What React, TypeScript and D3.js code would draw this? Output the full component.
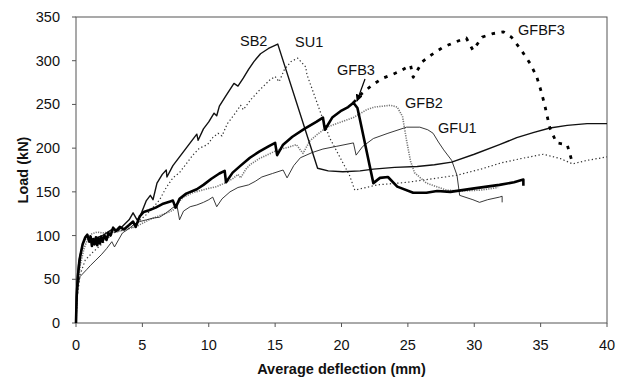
import React from "react";
import * as d3 from "d3";

type Pt = [number, number];

const xTicks = [0, 5, 10, 15, 20, 25, 30, 35, 40];
const yTicks = [0, 50, 100, 150, 200, 250, 300, 350];

const SB2: Pt[] = [
  [0, 0], [0.05, 40], [0.2, 70], [0.5, 90], [0.8, 100], [1.0, 97], [1.3, 92], [1.6, 98], [2.0, 100],
  [2.4, 104], [2.8, 108], [3.2, 106], [3.6, 112], [4.0, 118], [4.3, 126], [4.6, 118], [4.8, 121],
  [5.3, 140], [5.6, 146], [5.8, 141], [6.1, 160], [6.5, 170], [6.8, 175], [6.85, 167], [7.3, 180],
  [7.8, 190], [8.3, 200], [8.8, 210], [9.1, 216], [9.2, 209], [9.6, 222], [10.0, 230], [10.4, 240],
  [10.6, 237], [10.8, 248], [11.3, 260], [11.9, 274], [12.2, 271], [12.6, 280], [13.0, 290],
  [13.4, 299], [13.9, 308], [14.5, 314], [15.2, 319], [18.2, 177], [19.0, 174], [20.1, 173],
  [21.4, 174], [22.4, 176], [24.0, 178], [25.7, 179], [27.0, 181], [28.3, 184], [30.0, 193],
  [31.9, 204], [33.2, 212], [34.5, 218], [35.7, 223], [37.0, 226], [38.5, 228], [40, 228],
];

const SU1: Pt[] = [
  [0, 0], [0.1, 30], [0.3, 55], [0.7, 72], [1.2, 80], [2.0, 91], [2.8, 103], [3.5, 106], [4.3, 110],
  [5.0, 120], [5.3, 124], [5.8, 132], [6.3, 141], [6.8, 155], [7.3, 166], [7.8, 172], [8.3, 182],
  [8.8, 192], [9.3, 200], [9.9, 204], [10.3, 212], [10.7, 217], [11.0, 214], [11.4, 228], [12.0, 240],
  [12.4, 249], [12.6, 244], [13.2, 256], [13.8, 266], [14.6, 278], [15.0, 282], [15.3, 276],
  [15.7, 290], [16.2, 299], [16.7, 303], [17.3, 293], [17.4, 284], [19.1, 212], [20.6, 169],
  [21.0, 152], [22.7, 158], [25.0, 161], [28.7, 169], [30.5, 176], [32.0, 183], [33.5, 188],
  [35.2, 193], [36.5, 188], [37.4, 182], [38.5, 186], [40, 190],
];

const GFB3: Pt[] = [
  [0, 0], [0.05, 30], [0.15, 55], [0.3, 75], [0.5, 90], [0.7, 98], [0.85, 101], [1.0, 93], [1.1, 99],
  [1.2, 88], [1.3, 96], [1.4, 90], [1.5, 98], [1.6, 89], [1.7, 97], [1.8, 91], [1.9, 99], [2.0, 93],
  [2.15, 100], [2.3, 95], [2.45, 103], [2.6, 100], [2.8, 109], [3.0, 105], [3.3, 110], [3.6, 107],
  [4.0, 112], [4.3, 116], [4.5, 110], [4.8, 122], [5.1, 127], [5.5, 129],
  [6.0, 132], [6.5, 136], [7.1, 139], [7.3, 140], [7.5, 132], [7.8, 142], [8.3, 148], [9.1, 153],
  [9.6, 158], [10.2, 165], [10.8, 171], [11.2, 174], [11.3, 161], [11.8, 172], [12.4, 180],
  [13.1, 189], [13.8, 196], [14.5, 202], [15.0, 206], [15.15, 192], [15.6, 204], [16.3, 213],
  [17.2, 222], [18.1, 230], [18.6, 235], [18.75, 221], [19.3, 235], [20.0, 243], [20.5, 247],
  [20.9, 252], [21.2, 246], [21.4, 232], [22.4, 160], [22.9, 166], [23.5, 167], [24.2, 156],
  [25.4, 149], [26.4, 149], [27.2, 151], [28.2, 150], [30.0, 154], [31.9, 158], [33.0, 161],
  [33.7, 164], [33.7, 157],
];

const GFB2: Pt[] = [
  [0, 0], [0.1, 35], [0.3, 65], [0.6, 85], [0.9, 97], [1.2, 102], [1.6, 104], [2.0, 103], [2.5, 104],
  [3.0, 104], [3.5, 106], [4.0, 108], [4.5, 110], [5.0, 114], [5.5, 118], [6.0, 121], [6.5, 124],
  [7.0, 127], [7.3, 129], [7.6, 136], [8.1, 144], [8.8, 149], [9.5, 152], [10.0, 154], [10.6, 156],
  [11.2, 160], [11.8, 165], [12.2, 170], [12.4, 166], [12.8, 176], [13.1, 181], [13.8, 188],
  [14.5, 193], [15.2, 198], [16.0, 201], [16.6, 204], [17.1, 194], [17.6, 208], [18.2, 216],
  [18.9, 224], [19.8, 229], [20.9, 235], [21.9, 244], [22.5, 247], [23.1, 248], [23.7, 249],
  [24.2, 247], [24.6, 236], [24.9, 209], [25.2, 185], [25.5, 172], [26.4, 160], [27.9, 152],
  [29.0, 151], [30.5, 152], [31.8, 155],
];

const GFU1: Pt[] = [
  [0, 0], [0.05, 20], [0.1, 38], [0.3, 53], [0.8, 61], [1.1, 66], [1.5, 72], [1.9, 78], [2.3, 85],
  [2.7, 93], [2.9, 87], [3.2, 95], [3.5, 103], [4.0, 108], [4.3, 112], [4.8, 116], [5.3, 118],
  [5.8, 120], [6.3, 121], [6.8, 126], [7.3, 132], [7.6, 135], [7.8, 118], [8.1, 128], [8.6, 133],
  [9.1, 135], [9.6, 138], [10.0, 141], [10.3, 144], [10.6, 133], [11.0, 142], [11.6, 150],
  [12.2, 155], [13.0, 158], [13.5, 162], [14.0, 167], [14.8, 171], [15.6, 175], [15.9, 166],
  [16.4, 180], [16.9, 189], [17.8, 195], [18.6, 199], [19.6, 202], [20.9, 206], [21.1, 192],
  [21.6, 202], [22.4, 211], [23.5, 217], [24.9, 224], [25.9, 224], [26.5, 221], [26.9, 217],
  [27.3, 207], [27.7, 198], [28.3, 186], [28.7, 169], [28.9, 146], [29.9, 141], [30.4, 138],
  [31.0, 141], [31.9, 144], [32.1, 145], [32.1, 138],
];

const GFBF3: Pt[] = [
  [20.9, 252], [21.5, 262], [22.3, 272], [23.1, 280], [23.8, 284], [24.4, 288], [25.2, 295],
  [25.4, 281], [26.1, 299], [26.8, 307], [27.6, 315], [28.5, 321], [29.4, 326], [29.9, 312],
  [30.6, 327], [31.4, 331], [32.2, 333], [32.8, 327], [33.5, 313], [34.2, 297], [34.7, 282],
  [35.0, 267], [35.3, 250], [35.5, 236], [35.7, 223], [36.2, 206], [37.0, 204], [37.4, 183],
];

const labels: { text: string; x: number; y: number }[] = [
  { text: "SB2", x: 240, y: 46 },
  { text: "SU1", x: 295, y: 47 },
  { text: "GFB3", x: 337, y: 75 },
  { text: "GFB2", x: 405, y: 108 },
  { text: "GFU1", x: 438, y: 133 },
  { text: "GFBF3", x: 518, y: 35 },
];

const W = 629;
const H = 379;
const L = 76;
const R = 607;
const T = 17;
const B = 323;

export default function App() {
  const x = d3.scaleLinear().domain([0, 40]).range([L, R]);
  const y = d3.scaleLinear().domain([0, 350]).range([B, T]);
  const line = d3
    .line<Pt>()
    .x((d) => x(d[0]))
    .y((d) => y(d[1]));
  const font = "'Liberation Sans', Arial, sans-serif";

  const series = [
    { data: SU1, stroke: "#333", width: 1.2, dash: "1.3 2.4" },
    { data: GFB2, stroke: "#777", width: 1.6, dash: "1.2 1.2" },
    { data: GFU1, stroke: "#222", width: 0.9, dash: undefined },
    { data: SB2, stroke: "#111", width: 1.4, dash: undefined },
    { data: GFB3, stroke: "#000", width: 2.6, dash: undefined },
    { data: GFBF3, stroke: "#000", width: 2.8, dash: "3.5 6.5" },
  ];

  return (
    <svg
      width={W}
      height={H}
      style={{ position: "absolute", left: 0, top: 0, background: "#fff" }}
      fontFamily={font}
    >
      <defs>
        <marker id="arr" viewBox="0 0 10 10" refX="9" refY="5" markerWidth="6" markerHeight="6" orient="auto">
          <path d="M0,0 L10,5 L0,10 z" fill="#000" />
        </marker>
      </defs>
      <rect x={L} y={T} width={R - L} height={B - T} fill="none" stroke="#555" strokeWidth={1} />
      {yTicks.map((t) => (
        <g key={"y" + t}>
          <line x1={L - 4} x2={L} y1={y(t)} y2={y(t)} stroke="#555" />
          <text x={60} y={y(t) + 5} textAnchor="end" fontSize={14.5} fill="#111">
            {t}
          </text>
        </g>
      ))}
      {xTicks.map((t) => (
        <g key={"x" + t}>
          <line x1={x(t)} x2={x(t)} y1={B} y2={B + 4} stroke="#555" />
          <text x={x(t)} y={350} textAnchor="middle" fontSize={14.5} fill="#111">
            {t}
          </text>
        </g>
      ))}
      <text x={(L + R) / 2} y={374} textAnchor="middle" fontSize={14.5} fontWeight="bold" fill="#111">
        Average deflection (mm)
      </text>
      <text
        transform={`translate(28,${(T + B) / 2}) rotate(-90)`}
        textAnchor="middle"
        fontSize={14.5}
        fontWeight="bold"
        fill="#111"
      >
        Load (kN)
      </text>
      {series.map((s, i) => (
        <path
          key={i}
          d={line(s.data) || ""}
          fill="none"
          stroke={s.stroke}
          strokeWidth={s.width}
          strokeDasharray={s.dash}
          strokeLinejoin="round"
        />
      ))}
      {labels.map((l) => (
        <text key={l.text} x={l.x} y={l.y} fontSize={14.5} fill="#111">
          {l.text}
        </text>
      ))}
      <line x1={365} y1={79} x2={357} y2={101} stroke="#000" strokeWidth={1.2} markerEnd="url(#arr)" />
    </svg>
  );
}
